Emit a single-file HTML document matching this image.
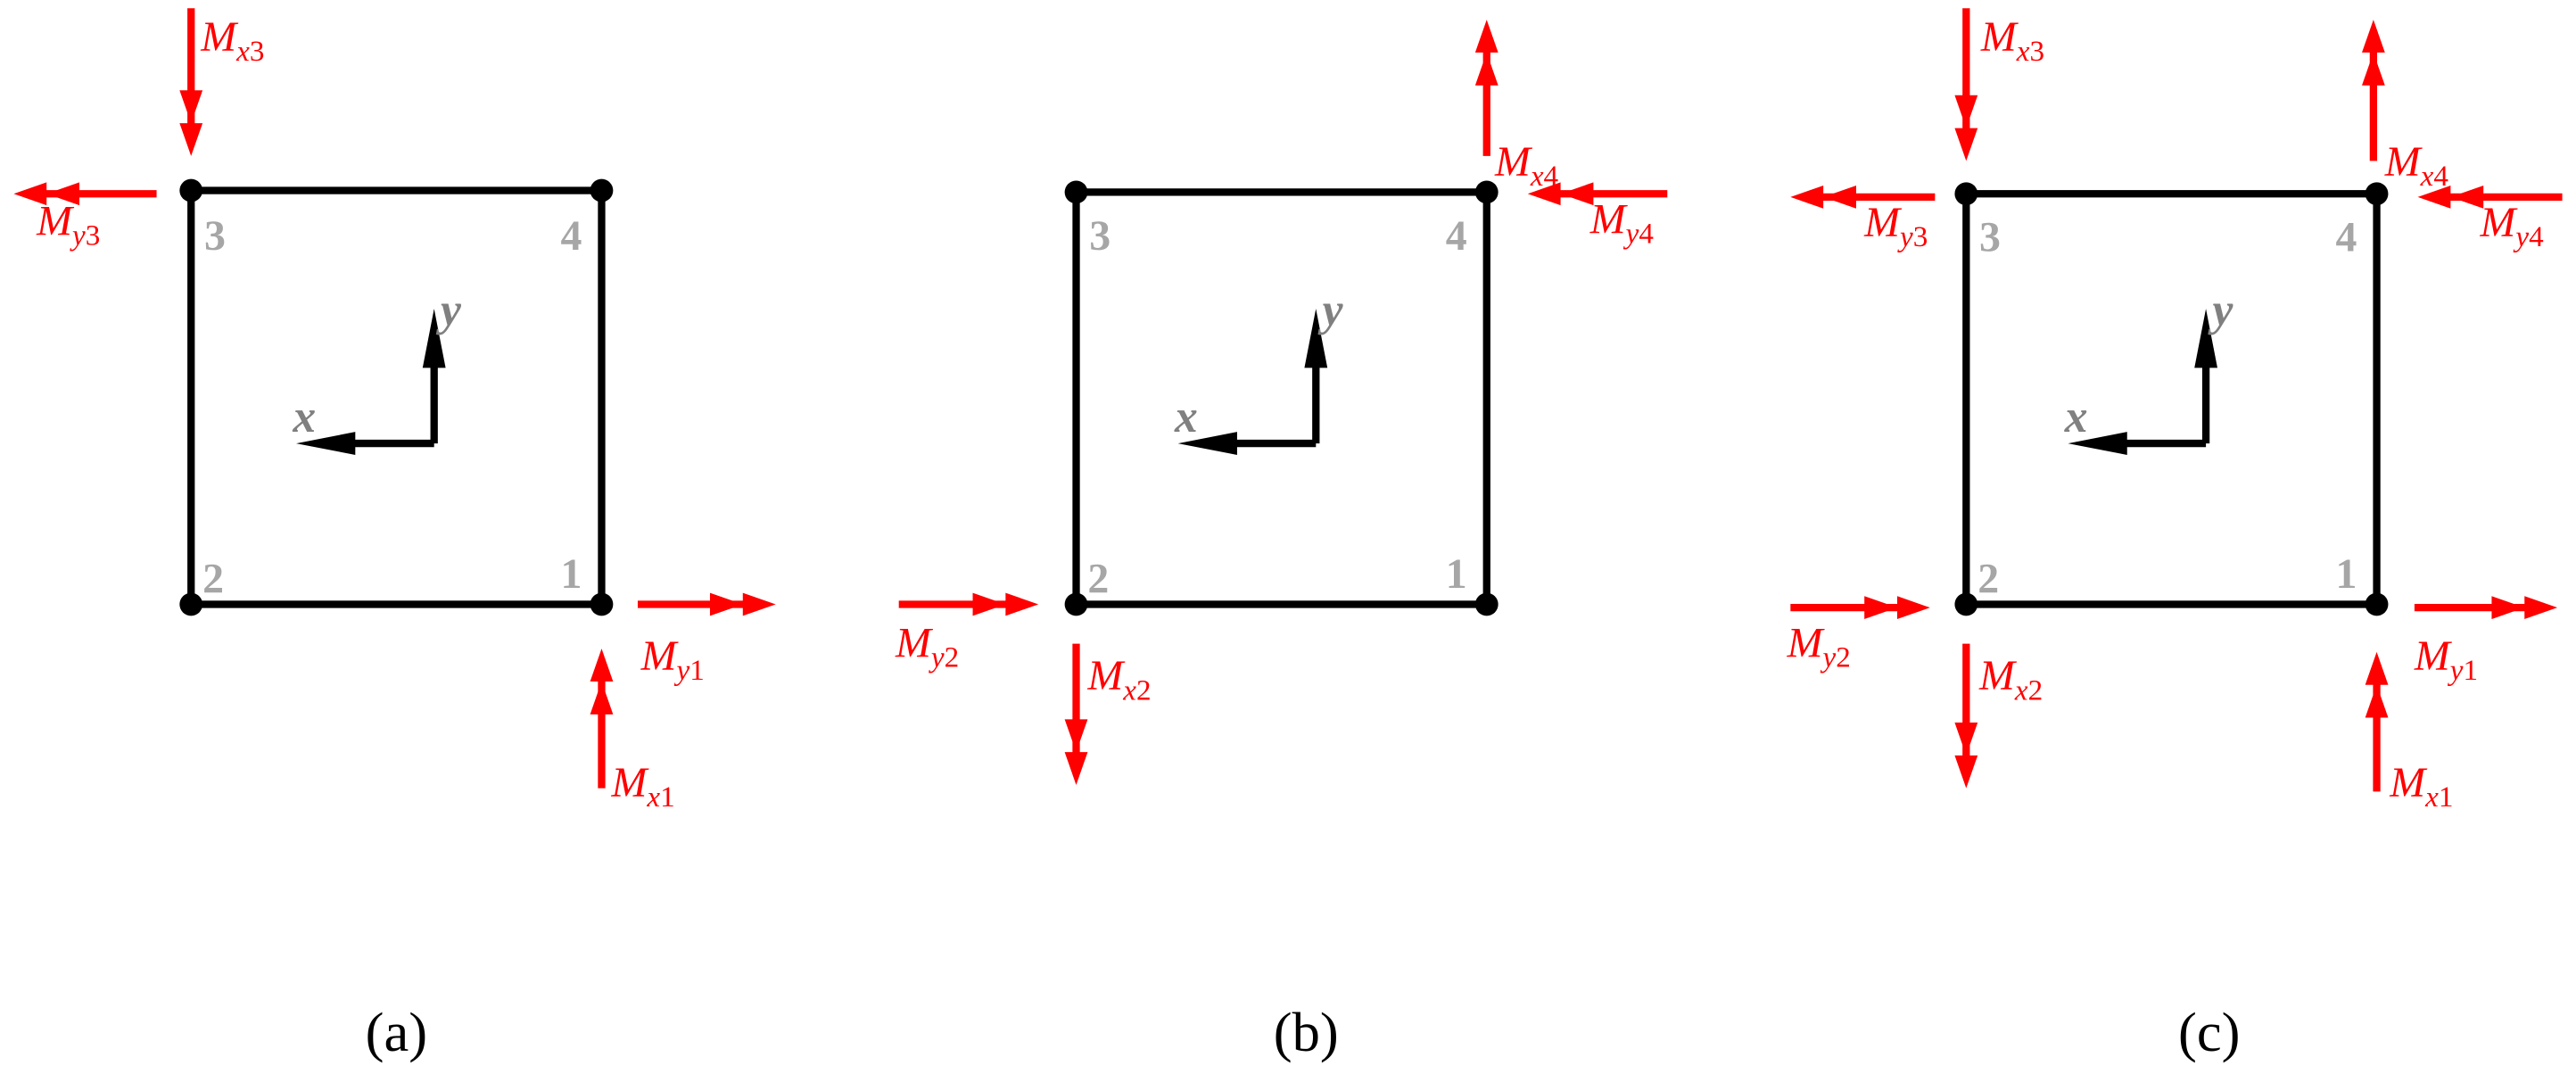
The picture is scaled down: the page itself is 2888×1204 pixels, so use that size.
<!DOCTYPE html>
<html><head><meta charset="utf-8"><style>
html,body{margin:0;padding:0;background:#fff;}
svg{display:block;}
.m{font-family:"Liberation Serif",serif;font-style:italic;fill:#ff0000;font-size:26px;}
.s{font-size:18px;}
.d{font-style:normal;}
.n{font-family:"Liberation Serif",serif;font-weight:bold;fill:#a6a6a6;font-size:26px;}
.ax{font-family:"Liberation Serif",serif;font-weight:bold;font-style:italic;fill:#808080;font-size:28px;}
.cap{font-family:"Liberation Serif",serif;font-size:34px;fill:#000;}
</style></head><body>
<svg width="2888" height="1204" viewBox="0 0 1568 654" xmlns="http://www.w3.org/2000/svg">
<g stroke="#000" stroke-width="4.5" fill="none">
<rect x="116" y="116" width="250" height="252"/>
<rect x="655" y="117" width="250" height="251"/>
<rect x="1197" y="118" width="250" height="250"/>
<path d="M264 270V218M264 270H212"/>
<path d="M801 270V218M801 270H749"/>
<path d="M1343 270V218M1343 270H1291"/>
</g>
<g fill="#000">
<circle cx="116" cy="116" r="7"/><circle cx="366" cy="116" r="7"/><circle cx="116" cy="368" r="7"/><circle cx="366" cy="368" r="7"/>
<circle cx="655" cy="117" r="7"/><circle cx="905" cy="117" r="7"/><circle cx="655" cy="368" r="7"/><circle cx="905" cy="368" r="7"/>
<circle cx="1197" cy="118" r="7"/><circle cx="1447" cy="118" r="7"/><circle cx="1197" cy="368" r="7"/><circle cx="1447" cy="368" r="7"/>
<polygon points="264,188 257,224 271,224"/><polygon points="180,270 216,263 216,277"/>
<polygon points="801,188 794,224 808,224"/><polygon points="717,270 753,263 753,277"/>
<polygon points="1343,188 1336,224 1350,224"/><polygon points="1259,270 1295,263 1295,277"/>
</g>
<g stroke="#ff0000" stroke-width="4.5">
<path d="M116 5V80M95 118H25M388 368H455M366 480V412"/>
<path d="M905 95V30M1015 118H945M547 368H615M655 392V462"/>
<path d="M1197 5V82M1178 120H1105M1445 98V30M1560 120H1490M1090 370H1160M1197 392V465M1470 370H1540M1447 482V415"/>
</g>
<g fill="#ff0000">
<polygon points="109,75 123,75 116,95"/><polygon points="109,55 123,55 116,75"/>
<polygon points="8,118 28,111 28,125"/><polygon points="28,118 48,111 48,125"/>
<polygon points="472,368 452,361 452,375"/><polygon points="452,368 432,361 432,375"/>
<polygon points="366,395 359,415 373,415"/><polygon points="366,415 359,435 373,435"/>
<polygon points="905,12 898,32 912,32"/><polygon points="905,32 898,52 912,52"/>
<polygon points="930,118 950,111 950,125"/><polygon points="950,118 970,111 970,125"/>
<polygon points="632,368 612,361 612,375"/><polygon points="612,368 592,361 592,375"/>
<polygon points="655,478 648,458 662,458"/><polygon points="655,458 648,438 662,438"/>
<polygon points="1197,98 1190,78 1204,78"/><polygon points="1197,78 1190,58 1204,58"/>
<polygon points="1090,120 1110,113 1110,127"/><polygon points="1110,120 1130,113 1130,127"/>
<polygon points="1445,12 1438,32 1452,32"/><polygon points="1445,32 1438,52 1452,52"/>
<polygon points="1472,120 1492,113 1492,127"/><polygon points="1492,120 1512,113 1512,127"/>
<polygon points="1175,370 1155,363 1155,377"/><polygon points="1155,370 1135,363 1135,377"/>
<polygon points="1197,480 1190,460 1204,460"/><polygon points="1197,460 1190,440 1204,440"/>
<polygon points="1557,370 1537,363 1537,377"/><polygon points="1537,370 1517,363 1517,377"/>
<polygon points="1447,397 1440,417 1454,417"/><polygon points="1447,417 1440,437 1454,437"/>
</g>
<g class="m">
<text x="122" y="31">M<tspan class="s" dy="6">x<tspan class="d">3</tspan></tspan></text>
<text x="22" y="143">M<tspan class="s" dy="6">y<tspan class="d">3</tspan></tspan></text>
<text x="390" y="408">M<tspan class="s" dy="6">y<tspan class="d">1</tspan></tspan></text>
<text x="372" y="485">M<tspan class="s" dy="6">x<tspan class="d">1</tspan></tspan></text>
<text x="910" y="107">M<tspan class="s" dy="6">x<tspan class="d">4</tspan></tspan></text>
<text x="968" y="142">M<tspan class="s" dy="6">y<tspan class="d">4</tspan></tspan></text>
<text x="545" y="400">M<tspan class="s" dy="6">y<tspan class="d">2</tspan></tspan></text>
<text x="662" y="420">M<tspan class="s" dy="6">x<tspan class="d">2</tspan></tspan></text>
<text x="1206" y="31">M<tspan class="s" dy="6">x<tspan class="d">3</tspan></tspan></text>
<text x="1135" y="144">M<tspan class="s" dy="6">y<tspan class="d">3</tspan></tspan></text>
<text x="1452" y="107">M<tspan class="s" dy="6">x<tspan class="d">4</tspan></tspan></text>
<text x="1510" y="144">M<tspan class="s" dy="6">y<tspan class="d">4</tspan></tspan></text>
<text x="1088" y="400">M<tspan class="s" dy="6">y<tspan class="d">2</tspan></tspan></text>
<text x="1205" y="420">M<tspan class="s" dy="6">x<tspan class="d">2</tspan></tspan></text>
<text x="1470" y="408">M<tspan class="s" dy="6">y<tspan class="d">1</tspan></tspan></text>
<text x="1455" y="485">M<tspan class="s" dy="6">x<tspan class="d">1</tspan></tspan></text>
</g>
<g class="n">
<text x="124" y="152">3</text><text x="341" y="152">4</text><text x="123" y="361">2</text><text x="341" y="358">1</text>
<text x="663" y="152">3</text><text x="880" y="152">4</text><text x="662" y="361">2</text><text x="880" y="358">1</text>
<text x="1205" y="153">3</text><text x="1422" y="153">4</text><text x="1204" y="361">2</text><text x="1422" y="358">1</text>
</g>
<g class="ax">
<text x="178" y="263">x</text><text x="268" y="198">y</text>
<text x="715" y="263">x</text><text x="805" y="198">y</text>
<text x="1257" y="263">x</text><text x="1347" y="198">y</text>
</g>
<g class="cap" text-anchor="middle">
<text x="241" y="640">(a)</text><text x="795" y="640">(b)</text><text x="1345" y="640">(c)</text>
</g>
</svg>
</body></html>
